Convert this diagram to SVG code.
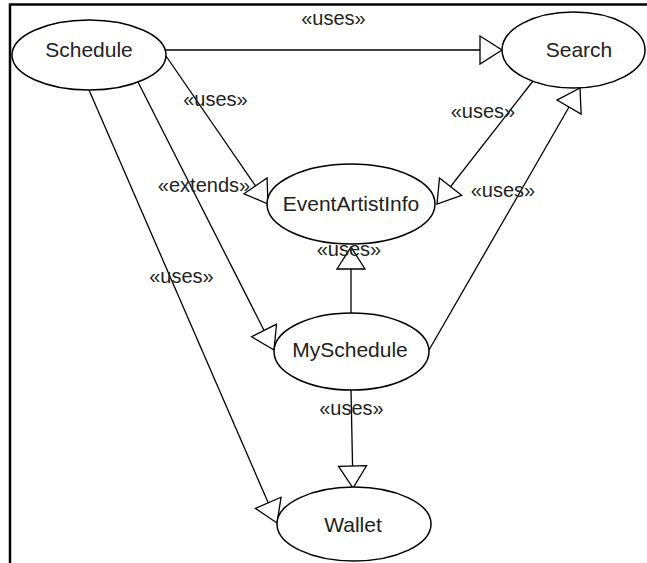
<svg xmlns="http://www.w3.org/2000/svg" width="647" height="563" viewBox="0 0 647 563">
<style>
.node ellipse{fill:#fff;stroke:#000;stroke-width:1.5}
.node text{font-family:"Liberation Sans",Arial,sans-serif;font-size:21px;fill:#222;text-anchor:middle}
.conn line{stroke:#000;stroke-width:1.3;fill:none;marker-end:url(#tri)}
.lbl{font-family:"Liberation Sans",Arial,sans-serif;font-size:20px;fill:#222;text-anchor:middle}
</style>
<defs>
<marker id="tri" markerUnits="userSpaceOnUse" markerWidth="26" markerHeight="32" refX="23" refY="15" orient="auto" viewBox="0 0 26 32">
<path d="M1,1 L23,15 L1,29 Z" fill="#fff" stroke="#000" stroke-width="1.3"/>
</marker>
</defs>
<rect width="647" height="563" fill="#fff"/>
<path d="M10,563 V4.5 H647" fill="none" stroke="#000" stroke-width="2.5"/>
<g id="connectors" class="conn">
<line x1="166" y1="50" x2="502" y2="50"/>
<line x1="166" y1="56" x2="268" y2="204"/>
<line x1="138" y1="82" x2="274" y2="350"/>
<line x1="89" y1="90" x2="277" y2="523"/>
<line x1="533" y1="81" x2="437" y2="204"/>
<line x1="429" y1="350" x2="580" y2="88"/>
<line x1="351" y1="313" x2="351" y2="247"/>
<line x1="351" y1="390" x2="353" y2="488"/>
</g>
<g id="Schedule" class="node"><ellipse cx="89" cy="55" rx="77" ry="35"/><text x="89" y="57">Schedule</text></g>
<g id="Search" class="node"><ellipse cx="573.5" cy="50" rx="71.5" ry="38"/><text x="579" y="57">Search</text></g>
<g id="EventArtistInfo" class="node"><ellipse cx="351" cy="204" rx="84" ry="40"/><text x="351" y="211">EventArtistInfo</text></g>
<g id="MySchedule" class="node"><ellipse cx="351.5" cy="351.5" rx="77.5" ry="38.5"/><text x="350" y="357">MySchedule</text></g>
<g id="Wallet" class="node"><ellipse cx="354" cy="524" rx="77" ry="37"/><text x="353" y="532">Wallet</text></g>
<g id="labels">
<text class="lbl" x="333.5" y="25">«uses»</text>
<text class="lbl" x="215.5" y="106">«uses»</text>
<text class="lbl" x="204" y="192">«extends»</text>
<text class="lbl" x="181.5" y="283">«uses»</text>
<text class="lbl" x="483" y="118">«uses»</text>
<text class="lbl" x="503" y="197">«uses»</text>
<text class="lbl" x="349" y="256">«uses»</text>
<text class="lbl" x="351.5" y="415">«uses»</text>
</g>
</svg>
